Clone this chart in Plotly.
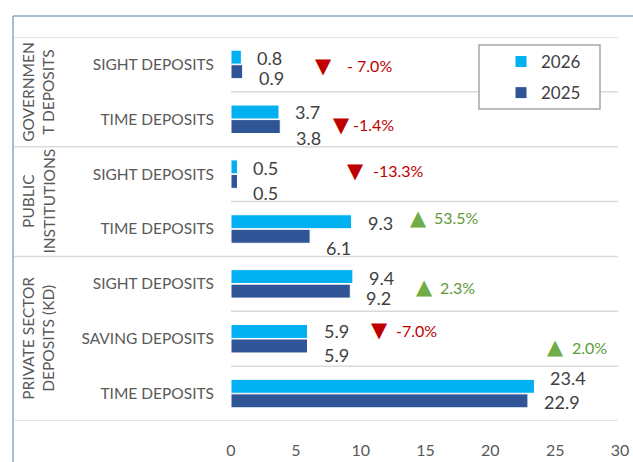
import plotly.graph_objects as go

# ---- data ----
groups = ["GOVERNMEN<br>T DEPOSITS", "PUBLIC<br>INSTITUTIONS", "PRIVATE SECTOR<br>DEPOSITS (KD)"]
group_sizes = [2, 2, 3]
categories = ["SIGHT DEPOSITS", "TIME DEPOSITS", "SIGHT DEPOSITS", "TIME DEPOSITS",
              "SIGHT DEPOSITS", "SAVING DEPOSITS", "TIME DEPOSITS"]
values_2026 = [0.8, 3.7, 0.5, 9.3, 9.4, 5.9, 23.4]
values_2025 = [0.9, 3.8, 0.5, 6.1, 9.2, 5.9, 22.9]
changes = ["- 7.0%", "-1.4%", "-13.3%", "53.5%", "2.3%", "-7.0%", "2.0%"]

# ---- geometry (pixels) ----
W, H = 633, 462
L, R, T, B = 231, 620, 37, 421
XMAX = 30
FONT = "Lato"

def px_x(px):
  return (px - L) / (R - L) * XMAX

def paper_x(px):
  return (px - L) / (R - L)

def paper_y(py):
  return (B - py) / (B - T)

# label placement tweaks (screen px, down = positive)
lab_dy_2026 = [-6.5, -7.5, -6.5, -6.5, -5.5, -7.5, -15.5]
lab_dy_2025 = [13.5, 18.5, 18.5, 18.5, 14.5, 16.5, 8.5]
tri_px = [323, 341, 355, 418, 424, 379, 555]
tri_dy = [1.5, 5.5, -3.5, -11.5, 3.5, -8.5, -46.5]
chg_px = [345, 351, 371, 432, 438, 394, 570]

pos = list(range(len(categories)))

fig = go.Figure()
fig.add_trace(go.Bar(
  name="2026", y=pos, x=values_2026, orientation="h",
  marker=dict(color="#00B0F0", line=dict(color="#FFFFFF", width=1)),
  legendgroup="a", hoverinfo="x"
))
fig.add_trace(go.Bar(
  name="2025", y=pos, x=values_2025, orientation="h",
  marker=dict(color="#2F5597", line=dict(color="#FFFFFF", width=1)),
  legendgroup="b", hoverinfo="x"
))

# value labels
for i in pos:
  fig.add_annotation(x=values_2026[i], y=i, text=f"{values_2026[i]:.1f}", showarrow=False,
                     xanchor="left", xshift=14, yshift=-lab_dy_2026[i],
                     font=dict(family=FONT, size=18, color="#404040"))
  fig.add_annotation(x=values_2025[i], y=i, text=f"{values_2025[i]:.1f}", showarrow=False,
                     xanchor="left", xshift=14, yshift=-lab_dy_2025[i],
                     font=dict(family=FONT, size=18, color="#404040"))

# change markers
for i in pos:
  down = changes[i].startswith("-")
  col = "#C00000" if down else "#70AD47"
  txt_col = "#C00000" if down else "#5E9A3A"
  fig.add_annotation(x=px_x(tri_px[i]), y=i, text="▼" if down else "▲", showarrow=False,
                     xanchor="center", yshift=-tri_dy[i],
                     font=dict(family="DejaVu Sans", size=21, color=col))
  fig.add_annotation(x=px_x(chg_px[i]), y=i, text=changes[i], showarrow=False,
                     xanchor="left", yshift=-tri_dy[i],
                     font=dict(family=FONT, size=16, color=txt_col))

# separators
shapes = []
bounds = [0]
for s in group_sizes:
  bounds.append(bounds[-1] + s)
for k in range(len(categories) + 1):
  y = k - 0.5
  x0 = paper_x(13) if k in bounds else 0
  shapes.append(dict(type="line", xref="paper", yref="y", x0=x0, x1=0.995, y0=y, y1=y,
                     line=dict(color="#D9D9D9", width=1.5), layer="below"))
# frame
shapes.append(dict(type="line", xref="paper", yref="paper", x0=paper_x(13), x1=paper_x(W),
                   y0=paper_y(16), y1=paper_y(16), line=dict(color="#8EA7C6", width=1.5)))
shapes.append(dict(type="line", xref="paper", yref="paper", x0=paper_x(13), x1=paper_x(13),
                   y0=paper_y(16), y1=paper_y(H), line=dict(color="#8EA7C6", width=1.5)))
# legend box
shapes.append(dict(type="rect", xref="paper", yref="paper", x0=paper_x(479), x1=paper_x(600),
                   y0=paper_y(45), y1=paper_y(109), line=dict(color="#A6A6A6", width=1.5),
                   fillcolor="white", layer="below"))

# group labels
start = 0
for g, s in zip(groups, group_sizes):
  mid = start + (s - 1) / 2
  fig.add_annotation(xref="paper", x=paper_x(38), y=mid, text=g, textangle=-90,
                     showarrow=False, xanchor="center", yanchor="middle",
                     font=dict(family=FONT, size=15.5, color="#595959"))
  start += s

fig.update_layout(
  width=W, height=H,
  margin=dict(l=L, r=W - R, t=T, b=H - B, autoexpand=False),
  barmode="group", bargap=0.47, bargroupgap=0.04,
  plot_bgcolor="rgba(0,0,0,0)", paper_bgcolor="white",
  shapes=shapes,
  showlegend=True,
  legend=dict(x=paper_x(501), y=paper_y(44), xanchor="left", yanchor="top",
              bgcolor="rgba(0,0,0,0)", borderwidth=0, tracegroupgap=6,
              traceorder="grouped", itemwidth=30,
              font=dict(family=FONT, size=17, color="#404040")),
)
fig.update_xaxes(range=[0, XMAX], dtick=5, showgrid=False, zeroline=False, showline=False,
                 ticklabelstandoff=18, automargin=False,
                 tickfont=dict(family=FONT, size=16, color="#595959"))
fig.update_yaxes(range=[len(categories) - 0.5, -0.5], tickvals=pos, ticktext=categories,
                 showgrid=False, zeroline=False, showline=False, ticklabelstandoff=16,
                 automargin=False,
                 tickfont=dict(family=FONT, size=15.5, color="#595959"))

fig.write_html("out.html", config={"displayModeBar": False},
               post_script="document.body.style.margin='0px';")
